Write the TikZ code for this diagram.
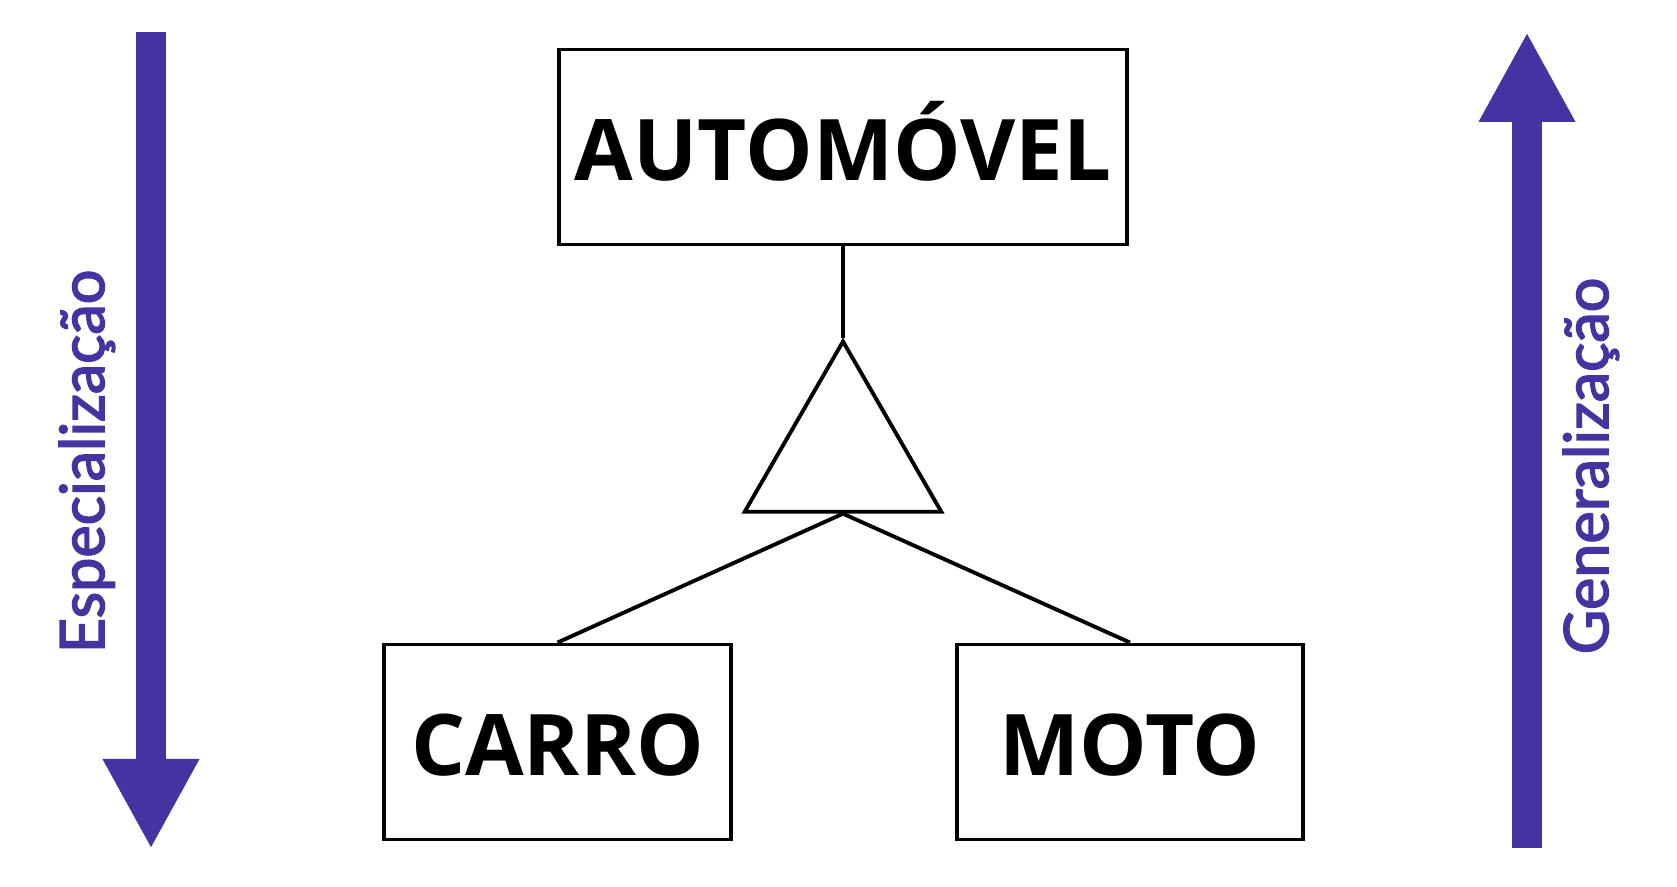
\documentclass[tikz,border=0pt]{standalone}
\usepackage{fontspec}
\usetikzlibrary{arrows.meta,shapes.geometric}
\newfontfamily\sidefont[FakeBold=2.5]{Lato}
\newfontfamily\boxfont{Open Sans}
\definecolor{ink}{HTML}{000000}
\definecolor{indigo}{HTML}{4433A0}

\begin{document}
\begin{tikzpicture}[x=1cm,y=1cm,
 entity/.style={draw=ink,line width=1.1pt,inner sep=0pt,text height=.68cm,text depth=0cm,
  minimum height=1.95cm,font=\boxfont\bfseries\fontsize{24.2}{28}\selectfont},
 isa/.style={regular polygon,regular polygon sides=3,draw=ink,line width=1.1pt,inner sep=0pt,minimum size=2.27cm},
 link/.style={draw=ink,line width=1.1pt},
 bigarrow/.style={draw=indigo,line width=.30cm,-{Triangle[length=.90cm,width=.90cm]}},
 sidelabel/.style={text=indigo,rotate=90,anchor=base,inner sep=0pt,font=\sidefont\fontsize{17.4}{20}\selectfont}]
\path[use as bounding box] (0,0) rectangle (16.77,8.87);
\node[entity,minimum width=5.68cm] (auto) at (8.43,7.40) {AUTOMÓVEL};
\node[isa] (tri) at (8.43,4.32) {};
\node[entity,minimum width=3.47cm] (carro) at (5.575,1.45) {CARRO};
\node[entity,minimum width=3.46cm] (moto) at (11.30,1.45) {MOTO};
\draw[link] (auto.south) -- (tri.north);
\draw[link] (tri.south) -- (carro.north);
\draw[link] (tri.south) -- (moto.north);
\coordinate (specTop) at (1.51,8.55);
\coordinate (specEnd) at (1.51,.38);
\draw[bigarrow] (specTop) -- (specEnd);
\node[sidelabel] (spec) at (1.04,4.255) {Especialização};
\coordinate (genBot) at (15.27,.39);
\coordinate (genEnd) at (15.27,8.55);
\draw[bigarrow] (genBot) -- (genEnd);
\node[sidelabel] (gen) at (16.08,4.21) {Generalização};
\end{tikzpicture}
\end{document}
